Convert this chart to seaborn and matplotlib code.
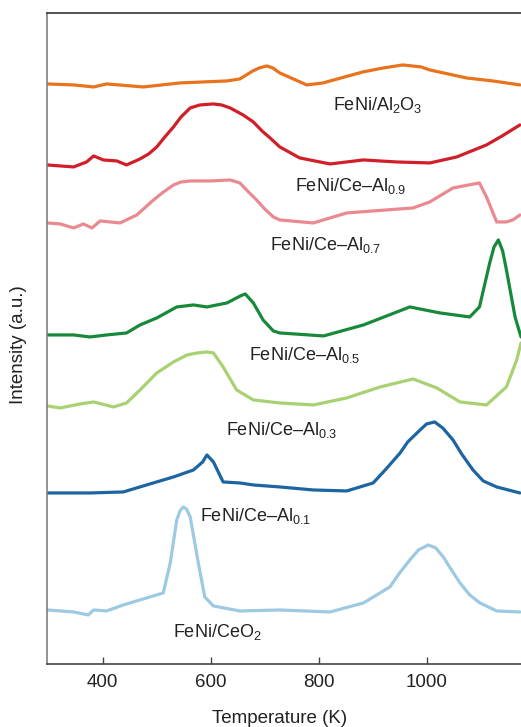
import numpy as np
import pandas as pd
import matplotlib
matplotlib.use("Agg")
import matplotlib.pyplot as plt
import seaborn as sns

# H2-TPR profiles, values (stacked, arbitrary units)
t_al2o3 = [297, 346, 383, 407, 475, 543, 630, 654, 678, 690, 704, 715, 728, 778, 808, 882, 920, 956, 990, 1006, 1074, 1123, 1173]
i_al2o3 = [580, 579, 577, 580, 577, 581, 583, 585, 593, 596, 598, 596, 591, 579, 581, 592, 596, 599, 597, 594, 586, 583, 579]

t_al09 = [297, 346, 370, 383, 401, 426, 444, 469, 485, 500, 515, 531, 545, 562, 580, 605, 620, 636, 660, 679, 695, 710, 728, 765, 821, 883, 944, 1006, 1056, 1111, 1140, 1173]
i_al09 = [499, 497, 502, 508, 504, 503, 499, 505, 510, 517, 527, 537, 547, 556, 559, 560, 559, 556, 549, 542, 533, 526, 517, 506, 500, 504, 502, 501, 507, 519, 528, 539]

t_al07 = [297, 321, 346, 364, 380, 395, 432, 463, 494, 510, 531, 545, 562, 600, 636, 654, 670, 685, 700, 716, 728, 790, 852, 901, 975, 1006, 1049, 1098, 1111, 1130, 1148, 1160, 1173]
i_al07 = [441, 440, 436, 440, 436, 443, 441, 449, 464, 471, 479, 482, 483, 483, 484, 481, 472, 464, 455, 447, 444, 441, 451, 453, 456, 462, 476, 481, 467, 442, 442, 444, 449]

t_al05 = [297, 346, 376, 407, 444, 469, 500, 537, 568, 593, 630, 655, 664, 679, 697, 716, 728, 809, 883, 969, 1025, 1080, 1098, 1117, 1125, 1133, 1141, 1148, 1164, 1175]
i_al05 = [329, 329, 327, 329, 331, 339, 346, 357, 359, 357, 361, 368, 370, 361, 344, 333, 331, 328, 339, 357, 351, 347, 357, 401, 417, 424, 413, 394, 347, 327]

t_al03 = [297, 321, 358, 383, 420, 444, 469, 500, 531, 556, 575, 593, 605, 623, 648, 679, 728, 790, 852, 914, 975, 1019, 1062, 1111, 1148, 1167, 1175]
i_al03 = [258, 256, 260, 262, 257, 261, 274, 291, 302, 309, 311, 312, 311, 297, 274, 264, 261, 259, 266, 277, 285, 276, 262, 259, 277, 304, 321]

t_al01 = [297, 376, 438, 481, 531, 568, 585, 593, 605, 623, 654, 679, 728, 790, 852, 901, 925, 951, 965, 988, 1000, 1015, 1030, 1049, 1065, 1086, 1105, 1130, 1173]
i_al01 = [171, 171, 172, 179, 187, 194, 202, 209, 202, 182, 181, 179, 177, 174, 173, 181, 195, 211, 222, 234, 240, 242, 236, 224, 210, 194, 183, 177, 171]

t_ceo2 = [297, 346, 373, 383, 407, 438, 481, 512, 525, 537, 543, 549, 555, 562, 577, 589, 605, 654, 728, 821, 883, 932, 950, 969, 985, 1003, 1017, 1031, 1045, 1062, 1080, 1099, 1130, 1173]
i_ceo2 = [54, 52, 49, 54, 53, 59, 66, 71, 101, 144, 153, 157, 155, 147, 101, 67, 58, 53, 54, 52, 61, 77, 91, 104, 114, 119, 116, 107, 95, 81, 69, 61, 53, 52]

samples = ["FeNi/Al2O3", "FeNi/Ce-Al0.9", "FeNi/Ce-Al0.7", "FeNi/Ce-Al0.5",
           "FeNi/Ce-Al0.3", "FeNi/Ce-Al0.1", "FeNi/CeO2"]
labels = [r"FeNi/Al$_\mathregular{2}$O$_\mathregular{3}$",
          r"FeNi/Ce–Al$_\mathregular{0.9}$",
          r"FeNi/Ce–Al$_\mathregular{0.7}$",
          r"FeNi/Ce–Al$_\mathregular{0.5}$",
          r"FeNi/Ce–Al$_\mathregular{0.3}$",
          r"FeNi/Ce–Al$_\mathregular{0.1}$",
          r"FeNi/CeO$_\mathregular{2}$"]
label_t = [826, 756, 710, 671, 628, 580, 530]
label_i = [559, 478, 419, 309, 234, 148, 32]
colors = ["#E8731C", "#D01F29", "#EA8A90", "#18893A", "#A8D172", "#1C65A1", "#9DC9E3"]

curves = [(t_al2o3, i_al2o3), (t_al09, i_al09), (t_al07, i_al07), (t_al05, i_al05),
          (t_al03, i_al03), (t_al01, i_al01), (t_ceo2, i_ceo2)]

rows = []
for name, (t, i) in zip(samples, curves):
    for a, b in zip(t, i):
        rows.append({"T": a, "I": b, "sample": name})
df = pd.DataFrame(rows)

sns.set_theme(style="white")
plt.rcParams["font.family"] = ["Liberation Sans", "DejaVu Sans"]
plt.rcParams["mathtext.fontset"] = "custom"
plt.rcParams["mathtext.rm"] = "Liberation Sans"
plt.rcParams["mathtext.it"] = "Liberation Sans"

fig = plt.figure(figsize=(5.21, 7.27), dpi=100)
ax = fig.add_axes([0.0896, 0.0867, 0.9104, 0.8955])

sns.lineplot(data=df, x="T", y="I", hue="sample", palette=dict(zip(samples, colors)),
             estimator=None, sort=False, linewidth=2.3, legend=False, ax=ax)
for line in ax.get_lines():
    line.set_solid_joinstyle("round")

for lab, x, y in zip(labels, label_t, label_i):
    ax.text(x, y, lab, fontsize=13, color="#222222", va="center", ha="left")

ax.set_xlim(296, 1175)
ax.set_ylim(0, 651)
ax.set_xticks([400, 600, 800, 1000])
ax.set_yticks([])
ax.tick_params(axis="x", direction="in", length=5, width=1, colors="#444444",
               labelsize=13.5, labelcolor="#222222", pad=7, bottom=True)
ax.set_xlabel("Temperature (K)", fontsize=13.5, color="#222222")
ax.set_ylabel("Intensity (a.u.)", fontsize=13.5, color="#222222")
ax.xaxis.set_label_coords(0.492, -0.071)
ax.yaxis.set_label_coords(-0.042, 0.49)

ax.spines["right"].set_visible(False)
ax.spines["top"].set_color("#333333")
ax.spines["bottom"].set_color("#444444")
ax.spines["left"].set_color("#808080")
for s in ["top", "bottom", "left"]:
    ax.spines[s].set_linewidth(1.2)

fig.savefig("out.png", dpi=100)
